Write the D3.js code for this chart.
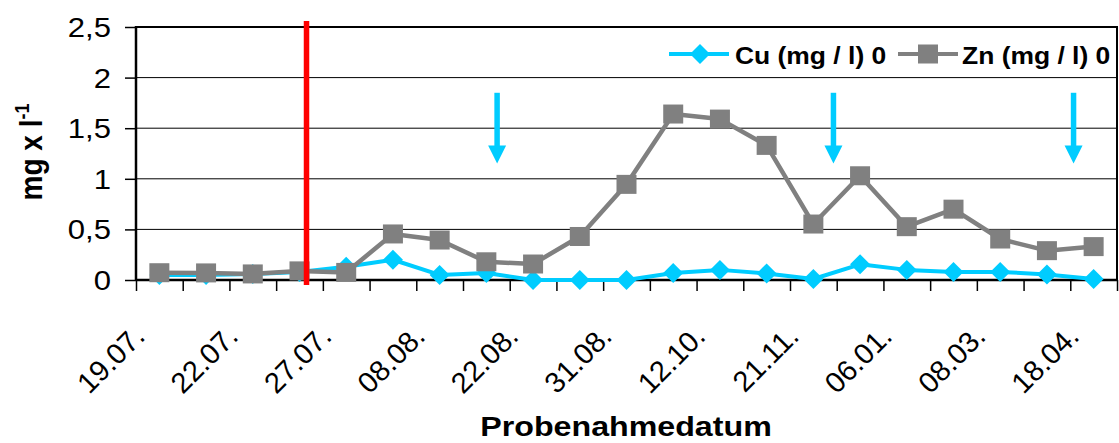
<!DOCTYPE html>
<html>
<head>
<meta charset="utf-8">
<script src="https://cdn.jsdelivr.net/npm/d3@7"></script>
<style>
  html, body { margin: 0; padding: 0; background: #fff; }
  svg { display: block; font-family: "Liberation Sans", Arial, sans-serif; }
</style>
</head>
<body>
<svg id="chart" width="1119" height="443"></svg>
<script>
// Sample numbers along the x axis (one per sampling event)
const samples = [1, 2, 3, 4, 5, 6, 7, 8, 9, 10, 11, 12, 13, 14, 15, 16, 17, 18, 19, 20, 21];
// Only every second sample carries a date label
const tickSamples = [1, 3, 5, 7, 9, 11, 13, 15, 17, 19, 21];
const tickLabels = ["19.07.", "22.07.", "27.07.", "08.08.", "22.08.", "31.08.", "12.10.", "21.11.", "06.01.", "08.03.", "18.04."];
const yTicks = [0, 0.5, 1, 1.5, 2, 2.5];
const yTickLabels = ["0", "0,5", "1", "1,5", "2", "2,5"];

// Concentrations in mg/l
const cuValues = [0.05, 0.05, 0.06, 0.08, 0.13, 0.2, 0.05, 0.07, 0, 0, 0, 0.07, 0.1, 0.065, 0.01, 0.155, 0.1, 0.08, 0.08, 0.055, 0.01];
const znValues = [0.072, 0.07, 0.06, 0.09, 0.075, 0.455, 0.395, 0.18, 0.158, 0.43, 0.945, 1.64, 1.59, 1.33, 0.553, 1.03, 0.527, 0.70, 0.405, 0.29, 0.33];

const seriesNames = ["Cu (mg / l) 0", "Zn (mg / l) 0"];

// Annotations: start of treatment (red line) and sampling hints (arrows), in sample units
const treatmentAt = 4.15;
const arrowsAt = [8.23, 15.43, 20.57];
const arrowTop = 1.85, arrowTip = 1.15;

const CYAN = "#00CCFF", GRAY = "#808080", RED = "#FF0000";
const SX = 1.15; // horizontal text stretch

const svg = d3.select("#chart");
svg.append("rect").attr("width", 1119).attr("height", 443).attr("fill", "#fff");

const plot = { left: 136, right: 1117, top: 27, bottom: 280 };
const x = d3.scaleLinear().domain([0.5, samples.length + 0.5]).range([plot.left, plot.right]);
const y = d3.scaleLinear().domain([0, 2.5]).range([plot.bottom, plot.top]);

// Horizontal gridlines
svg.append("g").selectAll("line").data(yTicks.filter(d => d > 0)).join("line")
  .attr("x1", plot.left).attr("x2", plot.right)
  .attr("y1", d => y(d)).attr("y2", d => y(d))
  .attr("stroke", "#000").attr("stroke-width", d => d === 2.5 ? 2 : 1);

// Right border
svg.append("line").attr("x1", plot.right).attr("x2", plot.right)
  .attr("y1", plot.top - 1).attr("y2", plot.bottom)
  .attr("stroke", "#000").attr("stroke-width", 2);

// Y axis
const yAxis = d3.axisLeft(y).tickValues(yTicks).tickSize(11).tickFormat(() => "");
const yg = svg.append("g").attr("transform", `translate(${plot.left},0)`).call(yAxis);
yg.select(".domain").remove();
yg.selectAll(".tick line").attr("stroke", "#000").attr("stroke-width", 1.5);
svg.append("line").attr("x1", plot.left).attr("x2", plot.left)
  .attr("y1", plot.top - 1).attr("y2", plot.bottom + 1)
  .attr("stroke", "#000").attr("stroke-width", 2.5);

svg.append("g").selectAll("text").data(yTicks).join("text")
  .attr("transform", (d) => `translate(${plot.left - 25},${y(d) + 10}) scale(${SX},1)`)
  .attr("text-anchor", "end")
  .attr("font-size", 27)
  .attr("fill", "#000")
  .text((d, i) => yTickLabels[i]);

// X axis: tick marks at boundaries between samples
const boundaries = d3.range(samples.length + 1).map(i => i + 0.5);
const xAxis = d3.axisBottom(x).tickValues(boundaries).tickSize(11).tickFormat(() => "");
const xg = svg.append("g").attr("transform", `translate(0,${plot.bottom})`).call(xAxis);
xg.select(".domain").remove();
xg.selectAll(".tick line").attr("stroke", "#000").attr("stroke-width", 1.5);
svg.append("line").attr("x1", plot.left).attr("x2", plot.right)
  .attr("y1", plot.bottom).attr("y2", plot.bottom)
  .attr("stroke", "#000").attr("stroke-width", 2.5);

svg.append("g").selectAll("text").data(tickSamples).join("text")
  .attr("transform", d => `translate(${x(d) - 13},338) rotate(-45)`)
  .attr("text-anchor", "end")
  .attr("font-size", 29)
  .attr("fill", "#000")
  .text((d, i) => tickLabels[i]);

// Series lines and markers
const line = d3.line().x((d, i) => x(samples[i])).y(d => y(d));

svg.append("path").datum(cuValues).attr("d", line)
  .attr("fill", "none").attr("stroke", CYAN).attr("stroke-width", 4).attr("stroke-linejoin", "round");
const diamond = (cx, cy, r) => `M${cx},${cy - r}L${cx + r},${cy}L${cx},${cy + r}L${cx - r},${cy}Z`;
svg.append("g").selectAll("path").data(cuValues).join("path")
  .attr("d", (d, i) => diamond(x(samples[i]), y(d), 10))
  .attr("fill", CYAN);

svg.append("path").datum(znValues).attr("d", line)
  .attr("fill", "none").attr("stroke", GRAY).attr("stroke-width", 4.5).attr("stroke-linejoin", "round");
svg.append("g").selectAll("rect").data(znValues).join("rect")
  .attr("x", (d, i) => x(samples[i]) - 10).attr("y", d => y(d) - 9.5)
  .attr("width", 20).attr("height", 19)
  .attr("fill", GRAY);

// Treatment start
svg.append("line")
  .attr("x1", x(treatmentAt)).attr("x2", x(treatmentAt))
  .attr("y1", plot.top - 6).attr("y2", plot.bottom + 5)
  .attr("stroke", RED).attr("stroke-width", 5.5);

// Arrows
const arrows = svg.append("g").selectAll("g").data(arrowsAt).join("g");
arrows.append("line")
  .attr("x1", d => x(d)).attr("x2", d => x(d))
  .attr("y1", y(arrowTop)).attr("y2", y(arrowTip) - 12)
  .attr("stroke", CYAN).attr("stroke-width", 5.5);
arrows.append("path")
  .attr("d", d => `M${x(d) - 9},${y(arrowTip) - 18}L${x(d) + 9},${y(arrowTip) - 18}L${x(d)},${y(arrowTip)}Z`)
  .attr("fill", CYAN);

// Legend
const legend = svg.append("g");
const legendItems = [
  { name: seriesNames[0], color: CYAN, x0: 669, tx: 735, mark: "diamond" },
  { name: seriesNames[1], color: GRAY, x0: 898, tx: 962, mark: "square" }
];
legendItems.forEach(it => {
  legend.append("line").attr("x1", it.x0).attr("x2", it.x0 + 60)
    .attr("y1", 54).attr("y2", 54).attr("stroke", it.color).attr("stroke-width", 4);
  if (it.mark === "diamond") {
    legend.append("path").attr("d", diamond(it.x0 + 31, 54, 10)).attr("fill", it.color);
  } else {
    legend.append("rect").attr("x", it.x0 + 20).attr("y", 44.5).attr("width", 20).attr("height", 19).attr("fill", it.color);
  }
  legend.append("text")
    .attr("transform", `translate(${it.tx},64) scale(${SX},1)`)
    .attr("font-size", 23).attr("font-weight", "bold").attr("fill", "#000")
    .text(it.name);
});

// Axis titles
svg.append("text")
  .attr("transform", `translate(626,436) scale(${SX},1)`)
  .attr("text-anchor", "middle").attr("font-size", 28).attr("font-weight", "bold")
  .text("Probenahmedatum");

const yTitle = svg.append("text")
  .attr("transform", `translate(42,152) scale(${SX},1) rotate(-90)`)
  .attr("text-anchor", "middle").attr("font-size", 28).attr("font-weight", "bold");
yTitle.append("tspan").text("mg x l");
yTitle.append("tspan").attr("dy", -11).attr("font-size", 18).text("-1");
</script>
</body>
</html>
